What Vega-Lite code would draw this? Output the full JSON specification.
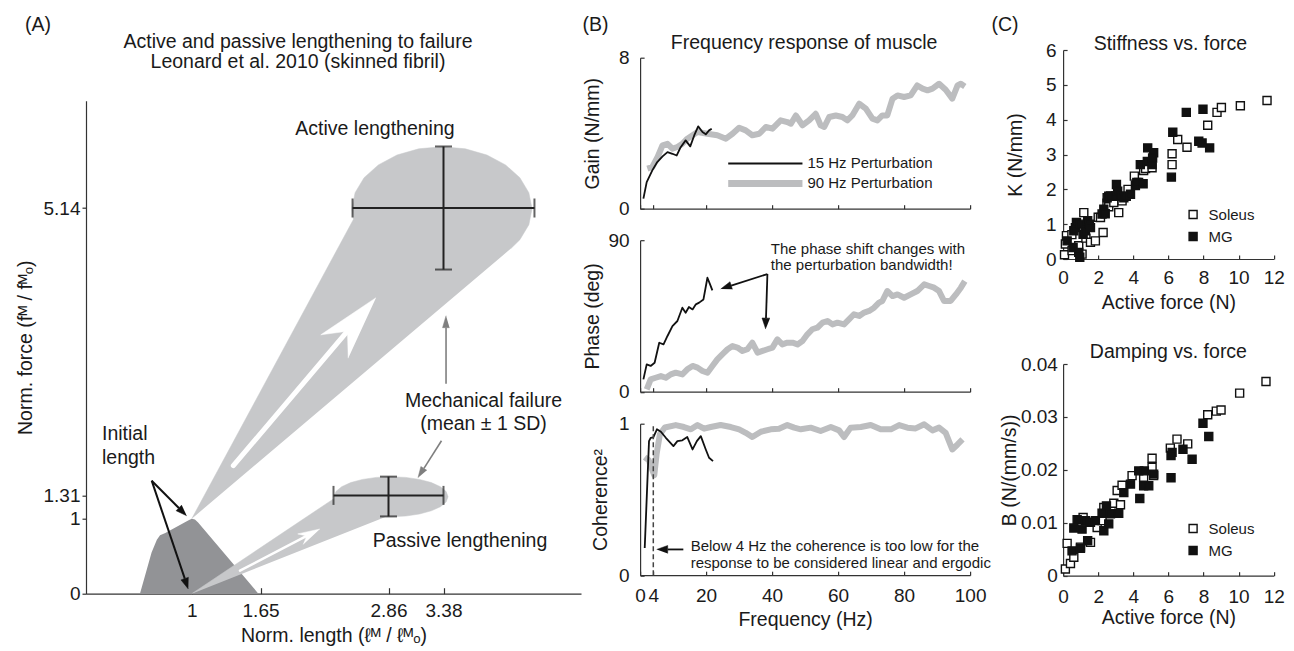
{
"$schema": "https://vega.github.io/schema/vega-lite/v6.json",
"background": "white",
"padding": {"left": 15, "top": 14, "right": 0, "bottom": 0},
"config": {
  "view": {"stroke": null},
  "font": "Liberation Sans",
  "axis": {"grid": false, "domainColor": "#333", "domainWidth": 1.2, "tickColor": "#333", "tickWidth": 1.2, "labelColor": "#1a1a1a", "titleColor": "#1a1a1a", "labelFontSize": 19, "titleFontSize": 19.5, "titleFontWeight": "normal", "labelFont": "Liberation Sans", "titleFont": "Liberation Sans", "labelOverlap": false, "labelFlush": false},
  "title": {"fontSize": 19.5, "fontWeight": "normal", "color": "#1a1a1a", "font": "Liberation Sans"},
  "text": {"font": "Liberation Sans", "color": "#1a1a1a"}
},
"datasets": {
  "A_fl": [{"x":0.51,"y":0},{"x":0.56,"y":0.25},{"x":0.62,"y":0.55},{"x":0.67,"y":0.72},{"x":0.70,"y":0.78},{"x":0.75,"y":0.81},{"x":0.97,"y":0.98},{"x":1.0,"y":1.0},{"x":1.03,"y":0.99},{"x":1.06,"y":0.95},{"x":1.63,"y":0}],
  "A_cones": [
    {"id":"act","o":0,"x":1.0,"y":1.0},{"id":"act","o":1,"x":2.528,"y":4.987},{"id":"act","o":2,"x":2.515,"y":5.131},{"id":"act","o":3,"x":2.544,"y":5.344},{"id":"act","o":4,"x":2.629,"y":5.544},{"id":"act","o":5,"x":2.764,"y":5.714},{"id":"act","o":6,"x":2.94,"y":5.846},{"id":"act","o":7,"x":3.146,"y":5.929},{"id":"act","o":8,"x":3.366,"y":5.957},{"id":"act","o":9,"x":3.586,"y":5.929},{"id":"act","o":10,"x":3.791,"y":5.846},{"id":"act","o":11,"x":3.967,"y":5.714},{"id":"act","o":12,"x":4.102,"y":5.544},{"id":"act","o":13,"x":4.187,"y":5.344},{"id":"act","o":14,"x":4.217,"y":5.131},{"id":"act","o":15,"x":4.187,"y":4.917},{"id":"act","o":16,"x":4.102,"y":4.717},{"id":"act","o":17,"x":4.017,"y":4.599},
    {"id":"pas","o":0,"x":1.0,"y":0.0},{"id":"pas","o":1,"x":2.347,"y":1.27},{"id":"pas","o":2,"x":2.345,"y":1.293},{"id":"pas","o":3,"x":2.363,"y":1.362},{"id":"pas","o":4,"x":2.417,"y":1.426},{"id":"pas","o":5,"x":2.503,"y":1.481},{"id":"pas","o":6,"x":2.614,"y":1.523},{"id":"pas","o":7,"x":2.744,"y":1.55},{"id":"pas","o":8,"x":2.884,"y":1.559},{"id":"pas","o":9,"x":3.024,"y":1.55},{"id":"pas","o":10,"x":3.153,"y":1.523},{"id":"pas","o":11,"x":3.265,"y":1.481},{"id":"pas","o":12,"x":3.351,"y":1.426},{"id":"pas","o":13,"x":3.405,"y":1.362},{"id":"pas","o":14,"x":3.423,"y":1.293},{"id":"pas","o":15,"x":3.405,"y":1.223},{"id":"pas","o":16,"x":3.351,"y":1.159},{"id":"pas","o":17,"x":3.265,"y":1.105},{"id":"pas","o":18,"x":3.153,"y":1.062},{"id":"pas","o":19,"x":3.024,"y":1.035},{"id":"pas","o":20,"x":2.884,"y":1.026},{"id":"pas","o":21,"x":2.836,"y":1.027}
  ],
  "A_shafts": [
    {"k":"wa","x":1.393,"y":1.706,"x2":2.472,"y2":3.498},
    {"k":"wp","x":1.456,"y":0.307,"x2":2.087,"y2":0.77},
    {"k":"bk","x":0.621,"y":1.506,"x2":0.878,"y2":1.143},
    {"k":"bk","x":0.621,"y":1.506,"x2":0.934,"y2":0.201},
    {"k":"gr","x":3.404,"y":2.798,"x2":3.404,"y2":3.545},
    {"k":"gr","x":3.361,"y":2.039,"x2":3.195,"y2":1.67}
  ],
  "A_heads": [
    {"k":"w","id":"wa","o":0,"x":2.742,"y":3.945},{"k":"w","id":"wa","o":1,"x":2.22,"y":3.45},{"k":"w","id":"wa","o":2,"x":2.472,"y":3.498},{"k":"w","id":"wa","o":3,"x":2.479,"y":3.138},
    {"k":"w","id":"wp","o":0,"x":2.212,"y":0.862},{"k":"w","id":"wp","o":1,"x":2.002,"y":0.797},{"k":"w","id":"wp","o":2,"x":2.087,"y":0.77},{"k":"w","id":"wp","o":3,"x":2.054,"y":0.656},
    {"k":"b","id":"b1","o":0,"x":0.952,"y":1.039},{"k":"b","id":"b1","o":1,"x":0.852,"y":1.106},{"k":"b","id":"b1","o":2,"x":0.905,"y":1.181},
    {"k":"b","id":"b2","o":0,"x":0.967,"y":0.063},{"k":"b","id":"b2","o":1,"x":0.898,"y":0.184},{"k":"b","id":"b2","o":2,"x":0.97,"y":0.219},
    {"k":"g","id":"g1","o":0,"x":3.404,"y":3.705},{"k":"g","id":"g1","o":1,"x":3.371,"y":3.545},{"k":"g","id":"g1","o":2,"x":3.437,"y":3.545},
    {"k":"g","id":"g2","o":0,"x":3.139,"y":1.546},{"k":"g","id":"g2","o":1,"x":3.166,"y":1.695},{"k":"g","id":"g2","o":2,"x":3.223,"y":1.644}
  ],
  "A_barsH": [{"x":2.52,"x2":4.24,"y":5.14},{"x":2.34,"x2":3.38,"y":1.31}],
  "A_barsV": [{"x":3.38,"y":4.32,"y2":5.96},{"x":2.86,"y":1.03,"y2":1.56}],
  "A_textC": [{"t":"Active lengthening","x":2.732,"y":6.193},{"t":"Passive lengthening","x":3.536,"y":0.706},{"t":"Mechanical failure","x":3.758,"y":2.572},{"t":"(mean ± 1 SD)","x":3.758,"y":2.265}],
  "A_textL": [{"t":"Initial","x":0.151,"y":2.128},{"t":"length","x":0.151,"y":1.808}],
  "gain15": [{"f":1.0,"v":0.53},{"f":2.0,"v":1.41},{"f":3.7,"v":2.03},{"f":5.2,"v":2.47},{"f":6.8,"v":2.77},{"f":8.3,"v":3.0},{"f":9.8,"v":2.91},{"f":11.1,"v":2.82},{"f":12.3,"v":3.26},{"f":13.8,"v":3.62},{"f":15.2,"v":3.3},{"f":16.4,"v":3.88},{"f":17.6,"v":4.36},{"f":18.9,"v":4.06},{"f":19.9,"v":3.94},{"f":20.9,"v":4.15},{"f":21.7,"v":4.24}],
  "gain90": [{"f":2.2,"v":2.12},{"f":3.7,"v":2.21},{"f":5.3,"v":2.74},{"f":6.8,"v":3.36},{"f":8.3,"v":3.44},{"f":9.8,"v":3.18},{"f":11.3,"v":3.27},{"f":12.8,"v":3.44},{"f":14.3,"v":3.71},{"f":15.9,"v":3.89},{"f":17.4,"v":4.06},{"f":20.4,"v":3.97},{"f":23.4,"v":3.89},{"f":26.0,"v":3.71},{"f":28.0,"v":3.97},{"f":30.0,"v":4.29},{"f":32.0,"v":4.15},{"f":34.0,"v":3.89},{"f":36.1,"v":3.97},{"f":38.1,"v":4.33},{"f":40.1,"v":4.24},{"f":42.6,"v":4.68},{"f":44.6,"v":4.59},{"f":45.7,"v":4.5},{"f":47.2,"v":4.94},{"f":49.2,"v":4.42},{"f":51.2,"v":4.68},{"f":53.2,"v":5.03},{"f":54.7,"v":4.42},{"f":55.8,"v":4.33},{"f":57.3,"v":4.86},{"f":59.3,"v":4.94},{"f":61.3,"v":4.86},{"f":62.8,"v":4.68},{"f":64.3,"v":4.94},{"f":66.4,"v":5.56},{"f":68.4,"v":5.3},{"f":70.4,"v":4.77},{"f":71.9,"v":4.68},{"f":73.4,"v":4.94},{"f":74.9,"v":4.94},{"f":76.5,"v":5.83},{"f":78.0,"v":6.0},{"f":80.0,"v":5.92},{"f":82.0,"v":6.0},{"f":84.0,"v":6.53},{"f":85.6,"v":6.36},{"f":87.1,"v":6.27},{"f":88.6,"v":6.36},{"f":90.6,"v":6.62},{"f":92.6,"v":6.3},{"f":94.6,"v":5.83},{"f":96.2,"v":6.53},{"f":97.2,"v":6.62},{"f":98.4,"v":6.48}],
  "ph15": [{"f":1.0,"v":7.3},{"f":2.0,"v":16.2},{"f":3.2,"v":15.3},{"f":4.4,"v":17.2},{"f":5.8,"v":29.1},{"f":7.1,"v":28.1},{"f":8.3,"v":33.1},{"f":9.8,"v":39.0},{"f":11.3,"v":42.0},{"f":12.8,"v":49.9},{"f":13.8,"v":46.9},{"f":14.8,"v":50.3},{"f":15.9,"v":48.9},{"f":16.9,"v":51.9},{"f":17.9,"v":52.9},{"f":19.2,"v":54.8},{"f":20.4,"v":67.7},{"f":21.2,"v":63.8},{"f":21.9,"v":60.2}],
  "ph90": [{"f":2.0,"v":1.4},{"f":3.2,"v":7.3},{"f":4.7,"v":8.3},{"f":6.3,"v":9.3},{"f":7.8,"v":8.3},{"f":9.3,"v":10.3},{"f":10.8,"v":11.3},{"f":12.8,"v":10.3},{"f":14.3,"v":13.3},{"f":15.9,"v":15.3},{"f":17.4,"v":14.3},{"f":18.9,"v":12.3},{"f":20.4,"v":11.3},{"f":21.9,"v":15.3},{"f":23.4,"v":19.2},{"f":24.9,"v":22.2},{"f":26.5,"v":25.2},{"f":28.0,"v":27.1},{"f":29.5,"v":26.2},{"f":31.0,"v":24.2},{"f":32.5,"v":25.2},{"f":34.0,"v":29.1},{"f":35.6,"v":23.2},{"f":37.1,"v":24.2},{"f":38.6,"v":25.2},{"f":40.1,"v":26.2},{"f":41.6,"v":31.1},{"f":43.1,"v":28.1},{"f":44.6,"v":29.1},{"f":46.2,"v":29.1},{"f":47.7,"v":28.1},{"f":49.2,"v":30.1},{"f":50.7,"v":34.1},{"f":52.2,"v":37.1},{"f":53.7,"v":38.0},{"f":55.3,"v":41.0},{"f":56.8,"v":42.0},{"f":58.3,"v":40.0},{"f":59.8,"v":41.0},{"f":61.8,"v":40.0},{"f":63.3,"v":43.0},{"f":64.8,"v":46.0},{"f":66.4,"v":45.0},{"f":67.9,"v":47.0},{"f":69.4,"v":48.0},{"f":70.9,"v":49.9},{"f":72.4,"v":52.9},{"f":73.4,"v":53.9},{"f":74.9,"v":59.8},{"f":76.5,"v":56.8},{"f":78.0,"v":57.8},{"f":80.0,"v":55.8},{"f":82.0,"v":57.8},{"f":84.0,"v":59.8},{"f":86.1,"v":63.8},{"f":87.6,"v":62.8},{"f":89.1,"v":61.8},{"f":90.6,"v":59.8},{"f":92.1,"v":53.9},{"f":94.1,"v":53.9},{"f":95.7,"v":57.8},{"f":97.2,"v":61.8},{"f":98.4,"v":65.7}],
  "co15": [{"f":1.4,"v":0.18},{"f":2.7,"v":0.885},{"f":3.2,"v":0.907},{"f":4.0,"v":0.91},{"f":5.1,"v":0.963},{"f":6.3,"v":0.947},{"f":7.8,"v":0.907},{"f":10.1,"v":0.852},{"f":11.3,"v":0.885},{"f":12.8,"v":0.89},{"f":14.3,"v":0.912},{"f":15.9,"v":0.83},{"f":17.2,"v":0.885},{"f":18.4,"v":0.918},{"f":19.9,"v":0.83},{"f":20.9,"v":0.775},{"f":22.1,"v":0.753}],
  "co90": [{"f":1.4,"v":0.78},{"f":2.6,"v":0.76},{"f":3.6,"v":0.7},{"f":4.3,"v":0.66},{"f":5.0,"v":0.8},{"f":6.0,"v":0.93},{"f":7.5,"v":0.975},{"f":10.8,"v":0.991},{"f":13.3,"v":0.978},{"f":15.4,"v":0.963},{"f":17.4,"v":0.991},{"f":19.4,"v":0.967},{"f":21.4,"v":0.978},{"f":24.4,"v":0.991},{"f":27.5,"v":0.978},{"f":30.0,"v":0.963},{"f":32.0,"v":0.94},{"f":34.0,"v":0.912},{"f":36.6,"v":0.947},{"f":39.6,"v":0.963},{"f":42.1,"v":0.967},{"f":44.6,"v":0.991},{"f":46.7,"v":0.974},{"f":48.7,"v":0.963},{"f":51.7,"v":0.974},{"f":54.7,"v":0.952},{"f":57.8,"v":0.978},{"f":60.3,"v":0.956},{"f":61.8,"v":0.912},{"f":63.8,"v":0.974},{"f":66.9,"v":0.978},{"f":69.9,"v":0.991},{"f":72.9,"v":0.963},{"f":76.0,"v":0.963},{"f":78.5,"v":0.991},{"f":81.0,"v":0.974},{"f":83.5,"v":0.969},{"f":86.1,"v":0.996},{"f":88.6,"v":0.956},{"f":90.6,"v":0.974},{"f":92.6,"v":0.94},{"f":94.6,"v":0.83},{"f":96.2,"v":0.863},{"f":97.7,"v":0.896}],
  "stiff": [
    {"m":"Soleus","x":0.08,"y":0.12},{"m":"Soleus","x":0.13,"y":0.43},{"m":"Soleus","x":0.19,"y":0.67},{"m":"Soleus","x":0.51,"y":0.24},{"m":"Soleus","x":0.5,"y":0.7},{"m":"Soleus","x":0.89,"y":0.38},{"m":"Soleus","x":1.08,"y":0.14},{"m":"Soleus","x":1.18,"y":1.33},{"m":"Soleus","x":1.3,"y":0.6},{"m":"Soleus","x":1.56,"y":0.48},{"m":"Soleus","x":1.84,"y":0.52},{"m":"Soleus","x":2.0,"y":1.2},{"m":"Soleus","x":2.13,"y":1.19},{"m":"Soleus","x":2.28,"y":0.76},{"m":"Soleus","x":2.5,"y":1.6},{"m":"Soleus","x":2.6,"y":1.5},{"m":"Soleus","x":2.89,"y":1.62},{"m":"Soleus","x":3.0,"y":1.8},{"m":"Soleus","x":3.17,"y":1.33},{"m":"Soleus","x":3.36,"y":1.67},{"m":"Soleus","x":3.7,"y":2.0},{"m":"Soleus","x":4.06,"y":2.38},{"m":"Soleus","x":4.3,"y":2.2},{"m":"Soleus","x":4.59,"y":2.54},{"m":"Soleus","x":4.7,"y":2.6},{"m":"Soleus","x":5.07,"y":2.62},{"m":"Soleus","x":6.21,"y":2.71},{"m":"Soleus","x":6.21,"y":3.02},{"m":"Soleus","x":6.53,"y":3.43},{"m":"Soleus","x":7.06,"y":3.21},{"m":"Soleus","x":8.24,"y":3.84},{"m":"Soleus","x":8.77,"y":4.21},{"m":"Soleus","x":9.02,"y":4.35},{"m":"Soleus","x":10.1,"y":4.4},{"m":"Soleus","x":11.62,"y":4.55},
    {"m":"MG","x":0.23,"y":0.52},{"m":"MG","x":0.57,"y":0.33},{"m":"MG","x":0.61,"y":0.81},{"m":"MG","x":0.7,"y":0.9},{"m":"MG","x":0.76,"y":1.05},{"m":"MG","x":0.89,"y":0.19},{"m":"MG","x":0.95,"y":0.05},{"m":"MG","x":1.0,"y":1.0},{"m":"MG","x":1.14,"y":0.71},{"m":"MG","x":1.27,"y":0.81},{"m":"MG","x":1.4,"y":1.1},{"m":"MG","x":1.5,"y":1.0},{"m":"MG","x":1.56,"y":0.9},{"m":"MG","x":2.22,"y":1.29},{"m":"MG","x":2.32,"y":1.43},{"m":"MG","x":2.4,"y":1.3},{"m":"MG","x":2.51,"y":1.76},{"m":"MG","x":2.6,"y":1.8},{"m":"MG","x":2.7,"y":1.81},{"m":"MG","x":3.0,"y":1.8},{"m":"MG","x":3.04,"y":2.14},{"m":"MG","x":3.11,"y":1.95},{"m":"MG","x":3.3,"y":1.8},{"m":"MG","x":3.46,"y":1.76},{"m":"MG","x":3.6,"y":1.8},{"m":"MG","x":3.84,"y":1.86},{"m":"MG","x":4.12,"y":2.11},{"m":"MG","x":4.2,"y":2.2},{"m":"MG","x":4.4,"y":2.71},{"m":"MG","x":4.56,"y":2.16},{"m":"MG","x":4.82,"y":3.19},{"m":"MG","x":4.8,"y":2.8},{"m":"MG","x":5.07,"y":2.71},{"m":"MG","x":5.16,"y":3.05},{"m":"MG","x":5.1,"y":2.9},{"m":"MG","x":6.17,"y":2.35},{"m":"MG","x":6.25,"y":3.64},{"m":"MG","x":7.02,"y":4.21},{"m":"MG","x":7.73,"y":3.38},{"m":"MG","x":7.92,"y":3.33},{"m":"MG","x":7.97,"y":4.3},{"m":"MG","x":8.35,"y":3.19}
  ],
  "damp": [
    {"m":"Soleus","x":0.13,"y":0.00126},{"m":"Soleus","x":0.23,"y":0.0061},{"m":"Soleus","x":0.42,"y":0.0023},{"m":"Soleus","x":0.61,"y":0.0035},{"m":"Soleus","x":0.99,"y":0.0054},{"m":"Soleus","x":1.14,"y":0.011},{"m":"Soleus","x":1.56,"y":0.0063},{"m":"Soleus","x":1.94,"y":0.0091},{"m":"Soleus","x":2.22,"y":0.0104},{"m":"Soleus","x":2.32,"y":0.0129},{"m":"Soleus","x":2.89,"y":0.0137},{"m":"Soleus","x":3.08,"y":0.0161},{"m":"Soleus","x":3.27,"y":0.0134},{"m":"Soleus","x":3.36,"y":0.0171},{"m":"Soleus","x":3.93,"y":0.0189},{"m":"Soleus","x":4.59,"y":0.0186},{"m":"Soleus","x":5.07,"y":0.0222},{"m":"Soleus","x":5.07,"y":0.0205},{"m":"Soleus","x":5.16,"y":0.0189},{"m":"Soleus","x":6.11,"y":0.0241},{"m":"Soleus","x":6.49,"y":0.0258},{"m":"Soleus","x":7.1,"y":0.0249},{"m":"Soleus","x":8.24,"y":0.0304},{"m":"Soleus","x":8.73,"y":0.0311},{"m":"Soleus","x":9.0,"y":0.0313},{"m":"Soleus","x":10.06,"y":0.0345},{"m":"Soleus","x":11.56,"y":0.0367},
    {"m":"MG","x":0.51,"y":0.0047},{"m":"MG","x":0.61,"y":0.009},{"m":"MG","x":0.8,"y":0.0106},{"m":"MG","x":0.99,"y":0.0052},{"m":"MG","x":1.08,"y":0.0088},{"m":"MG","x":1.27,"y":0.0104},{"m":"MG","x":1.4,"y":0.0066},{"m":"MG","x":1.56,"y":0.0101},{"m":"MG","x":1.84,"y":0.0104},{"m":"MG","x":2.22,"y":0.0118},{"m":"MG","x":2.32,"y":0.0085},{"m":"MG","x":2.47,"y":0.0132},{"m":"MG","x":2.6,"y":0.0098},{"m":"MG","x":2.7,"y":0.0117},{"m":"MG","x":3.17,"y":0.0118},{"m":"MG","x":3.46,"y":0.0157},{"m":"MG","x":3.84,"y":0.0173},{"m":"MG","x":4.37,"y":0.0146},{"m":"MG","x":4.31,"y":0.0198},{"m":"MG","x":4.63,"y":0.0198},{"m":"MG","x":4.59,"y":0.017},{"m":"MG","x":4.88,"y":0.017},{"m":"MG","x":5.16,"y":0.0192},{"m":"MG","x":6.15,"y":0.0185},{"m":"MG","x":6.21,"y":0.0233},{"m":"MG","x":6.15,"y":0.0227},{"m":"MG","x":6.83,"y":0.0239},{"m":"MG","x":7.35,"y":0.022},{"m":"MG","x":7.97,"y":0.0288},{"m":"MG","x":8.3,"y":0.0263}
  ]
},
"hconcat": [
  {"vconcat": [
    {"width": 1, "height": 1, "data": {"values": [{"t": ""}]}, "mark": {"type": "text", "fontSize": 0}, "encoding": {"text": {"field": "t"}},
     "title": {"text": "(A)", "anchor": "start", "frame": "group", "dx": -61, "offset": 14}},
    {"width": 495, "height": 493,
     "title": {"text": ["Active and passive lengthening to failure", "Leonard et al. 2010 (skinned fibril)"], "anchor": "middle", "frame": "group", "dx": -35.5, "offset": 28, "lineHeight": 20},
     "encoding": {
       "x": {"field": "x", "type": "quantitative", "scale": {"domain": [0, 4.68], "nice": false, "zero": false},
             "axis": {"values": [1, 1.65, 2.86, 3.38], "format": ".3~g", "title": "Norm. length (ℓᴹ / ℓᴹₒ)", "tickSize": -6, "labelPadding": 13.3, "titleY": 42, "titleBaseline": "middle"}},
       "y": {"field": "y", "type": "quantitative", "scale": {"domain": [0, 6.57], "nice": false, "zero": false},
             "axis": {"values": [0, 1, 1.31, 5.14], "format": ".3~g", "title": "Norm. force (fᴹ / fᴹₒ)", "tickSize": 4, "labelPadding": 2, "titleX": -61, "titleBaseline": "middle"}}
     },
     "layer": [
       {"data": {"name": "A_fl"}, "mark": {"type": "area", "color": "#929396"}, "encoding": {}},
       {"data": {"name": "A_cones"}, "mark": {"type": "line", "fill": "#c7c8ca", "stroke": "#c7c8ca", "strokeWidth": 0.5}, "encoding": {"detail": {"field": "id"}, "order": {"field": "o"}}},
       {"data": {"name": "A_shafts"}, "transform": [{"filter": "datum.k == 'wa'"}], "mark": {"type": "rule", "color": "white", "strokeWidth": 5, "strokeCap": "round"}, "encoding": {"x2": {"field": "x2"}, "y2": {"field": "y2"}}},
       {"data": {"name": "A_shafts"}, "transform": [{"filter": "datum.k == 'wp'"}], "mark": {"type": "rule", "color": "white", "strokeWidth": 2.5, "strokeCap": "round"}, "encoding": {"x2": {"field": "x2"}, "y2": {"field": "y2"}}},
       {"data": {"name": "A_heads"}, "transform": [{"filter": "datum.k == 'w'"}], "mark": {"type": "line", "fill": "white", "stroke": "white", "strokeWidth": 0.5}, "encoding": {"detail": {"field": "id"}, "order": {"field": "o"}}},
       {"data": {"name": "A_barsH"}, "mark": {"type": "errorbar", "color": "#222", "thickness": 2, "ticks": {"size": 19, "thickness": 2, "color": "#222"}}, "encoding": {"x2": {"field": "x2"}}},
       {"data": {"name": "A_barsV"}, "mark": {"type": "errorbar", "color": "#222", "thickness": 2, "ticks": {"size": 17, "thickness": 2, "color": "#222"}}, "encoding": {"y2": {"field": "y2"}}},
       {"data": {"name": "A_shafts"}, "transform": [{"filter": "datum.k == 'bk'"}], "mark": {"type": "rule", "color": "#111", "strokeWidth": 2}, "encoding": {"x2": {"field": "x2"}, "y2": {"field": "y2"}}},
       {"data": {"name": "A_shafts"}, "transform": [{"filter": "datum.k == 'gr'"}], "mark": {"type": "rule", "color": "#7f7f7f", "strokeWidth": 1.6}, "encoding": {"x2": {"field": "x2"}, "y2": {"field": "y2"}}},
       {"data": {"name": "A_heads"}, "transform": [{"filter": "datum.k == 'b'"}], "mark": {"type": "line", "fill": "#111", "stroke": "#111", "strokeWidth": 0.5}, "encoding": {"detail": {"field": "id"}, "order": {"field": "o"}}},
       {"data": {"name": "A_heads"}, "transform": [{"filter": "datum.k == 'g'"}], "mark": {"type": "line", "fill": "#7f7f7f", "stroke": "#7f7f7f", "strokeWidth": 0.5}, "encoding": {"detail": {"field": "id"}, "order": {"field": "o"}}},
       {"data": {"name": "A_textC"}, "mark": {"type": "text", "align": "center", "baseline": "middle", "fontSize": 19.5}, "encoding": {"text": {"field": "t"}}},
       {"data": {"name": "A_textL"}, "mark": {"type": "text", "align": "left", "baseline": "middle", "fontSize": 19.5}, "encoding": {"text": {"field": "t"}}}
     ]}
  ], "spacing": 50.7, "bounds": "flush"},
  {"hconcat": [
    {"vconcat": [
      {"width": 1, "height": 1, "data": {"values": [{"t": ""}]}, "mark": {"type": "text", "fontSize": 0}, "encoding": {"text": {"field": "t"}},
       "title": {"text": "(B)", "anchor": "start", "frame": "group", "dx": -57.7, "offset": 14}},
      {"vconcat": [
        {"width": 330, "height": 151,
         "title": {"text": "Frequency response of muscle", "anchor": "middle", "frame": "group", "dx": -1, "offset": -5},
         "encoding": {
           "x": {"field": "f", "type": "quantitative", "scale": {"domain": [0, 100], "nice": false}, "axis": {"values": [0, 4, 20, 40, 60, 80, 100], "labels": false, "title": null, "tickSize": -4}},
           "y": {"field": "v", "type": "quantitative", "scale": {"domain": [0, 8], "nice": false}, "axis": {"values": [0, 8], "title": "Gain (N/mm)", "titleX": -47.7, "titleBaseline": "middle", "tickSize": -4, "labelPadding": 15}}
         },
         "layer": [
           {"data": {"name": "gain90"}, "mark": {"type": "line", "color": "#bcbdbf", "strokeWidth": 6, "strokeJoin": "round"}, "encoding": {}},
           {"data": {"name": "gain15"}, "mark": {"type": "line", "color": "#111", "strokeWidth": 1.8, "strokeJoin": "round"}, "encoding": {}},
           {"data": {"values": [{"f": 26.7, "v": 1.34}, {"f": 49.2, "v": 1.34}]}, "mark": {"type": "line", "color": "#bcbdbf", "strokeWidth": 7}, "encoding": {}},
           {"data": {"values": [{"f": 26.7, "v": 2.4}, {"f": 49.2, "v": 2.4}]}, "mark": {"type": "line", "color": "#111", "strokeWidth": 2}, "encoding": {}},
           {"data": {"values": [{"t": "15 Hz Perturbation", "f": 50.7, "v": 2.4}, {"t": "90 Hz Perturbation", "f": 50.7, "v": 1.34}]}, "mark": {"type": "text", "align": "left", "baseline": "middle", "fontSize": 15}, "encoding": {"text": {"field": "t"}}}
         ]},
        {"width": 330, "height": 151.5,
         "encoding": {
           "x": {"field": "f", "type": "quantitative", "scale": {"domain": [0, 100], "nice": false}, "axis": {"values": [0, 4, 20, 40, 60, 80, 100], "labels": false, "title": null, "tickSize": -4}},
           "y": {"field": "v", "type": "quantitative", "scale": {"domain": [0, 90], "nice": false}, "axis": {"values": [0, 90], "title": "Phase (deg)", "titleX": -47.7, "titleBaseline": "middle", "tickSize": -4, "labelPadding": 15}}
         },
         "layer": [
           {"data": {"name": "ph90"}, "mark": {"type": "line", "color": "#bcbdbf", "strokeWidth": 6, "strokeJoin": "round"}, "encoding": {}},
           {"data": {"name": "ph15"}, "mark": {"type": "line", "color": "#111", "strokeWidth": 1.8, "strokeJoin": "round"}, "encoding": {}},
           {"data": {"values": [{"f": 38.58, "v": 69.9, "f2": 27.61, "v2": 63.0}, {"f": 38.58, "v": 69.9, "f2": 38.15, "v2": 43.8}]}, "mark": {"type": "rule", "color": "#111", "strokeWidth": 1.8}, "encoding": {"x2": {"field": "f2"}, "y2": {"field": "v2"}}},
           {"data": {"values": [{"id": "p1", "o": 0, "f": 24.42, "v": 61.0}, {"id": "p1", "o": 1, "f": 27.24, "v": 65.3}, {"id": "p1", "o": 2, "f": 27.97, "v": 60.8}, {"id": "p2", "o": 0, "f": 38.06, "v": 37.2}, {"id": "p2", "o": 1, "f": 36.94, "v": 43.8}, {"id": "p2", "o": 2, "f": 39.36, "v": 43.7}]}, "mark": {"type": "line", "fill": "#111", "stroke": "#111", "strokeWidth": 0.5}, "encoding": {"detail": {"field": "id"}, "order": {"field": "o"}}},
           {"data": {"values": [{"t": "The phase shift changes with", "f": 39.6, "v": 84.8}, {"t": "the perturbation bandwidth!", "f": 39.6, "v": 75.3}]}, "mark": {"type": "text", "align": "left", "baseline": "middle", "fontSize": 15}, "encoding": {"text": {"field": "t"}}}
         ]},
        {"width": 330, "height": 151.5,
         "encoding": {
           "x": {"field": "f", "type": "quantitative", "scale": {"domain": [0, 100], "nice": false}, "axis": {"values": [0, 4, 20, 40, 60, 80, 100], "title": "Frequency (Hz)", "titleY": 44.3, "titleBaseline": "middle", "tickSize": -4, "labelPadding": 15.3}},
           "y": {"field": "v", "type": "quantitative", "scale": {"domain": [0, 1], "nice": false}, "axis": {"values": [0, 1], "format": ".1~f", "title": "Coherence²", "titleX": -39.7, "titleBaseline": "middle", "tickSize": -4, "labelPadding": 15}}
         },
         "layer": [
           {"data": {"name": "co90"}, "mark": {"type": "line", "color": "#bcbdbf", "strokeWidth": 6, "strokeJoin": "round"}, "encoding": {}},
           {"data": {"name": "co15"}, "mark": {"type": "line", "color": "#111", "strokeWidth": 1.8, "strokeJoin": "round"}, "encoding": {}},
           {"data": {"values": [{"f": 4, "v": 0, "v2": 1}]}, "mark": {"type": "rule", "color": "#444", "strokeWidth": 1.5, "strokeDash": [5, 3]}, "encoding": {"y2": {"field": "v2"}}},
           {"data": {"values": [{"f": 13.1, "v": 0.17, "f2": 8.36, "v2": 0.17}]}, "mark": {"type": "rule", "color": "#111", "strokeWidth": 1.8}, "encoding": {"x2": {"field": "f2"}, "y2": {"field": "v2"}}},
           {"data": {"values": [{"o": 0, "f": 5.03, "v": 0.17}, {"o": 1, "f": 8.36, "v": 0.196}, {"o": 2, "f": 8.36, "v": 0.144}]}, "mark": {"type": "line", "fill": "#111", "stroke": "#111", "strokeWidth": 0.5}, "encoding": {"order": {"field": "o"}}},
           {"data": {"values": [{"t": "Below 4 Hz the coherence is too low for the", "f": 15.33, "v": 0.191}, {"t": "response to be considered linear and ergodic", "f": 15.33, "v": 0.081}]}, "mark": {"type": "text", "align": "left", "baseline": "middle", "fontSize": 15}, "encoding": {"text": {"field": "t"}}}
         ]}
      ], "spacing": 31.5, "bounds": "flush"}
    ], "spacing": 7.7, "bounds": "flush"},
    {"vconcat": [
      {"width": 1, "height": 1, "data": {"values": [{"t": ""}]}, "mark": {"type": "text", "fontSize": 0}, "encoding": {"text": {"field": "t"}},
       "title": {"text": "(C)", "anchor": "start", "frame": "group", "dx": -71.7, "offset": 14}},
      {"vconcat": [
        {"width": 210.6, "height": 209, "data": {"name": "stiff"},
         "title": {"text": "Stiffness vs. force", "anchor": "middle", "frame": "group", "dx": 2, "offset": -13},
         "mark": {"type": "point", "shape": "square", "filled": true, "size": 64, "stroke": "#111", "strokeWidth": 1.4, "opacity": 1},
         "encoding": {
           "x": {"field": "x", "type": "quantitative", "scale": {"domain": [0, 12], "nice": false}, "axis": {"values": [0, 2, 4, 6, 8, 10, 12], "title": "Active force (N)", "titleY": 43.4, "titleBaseline": "middle", "tickSize": -4, "labelPadding": 13.3}},
           "y": {"field": "y", "type": "quantitative", "scale": {"domain": [0, 6], "nice": false}, "axis": {"values": [0, 1, 2, 3, 4, 5, 6], "title": "K (N/mm)", "titleX": -47.7, "titleBaseline": "middle", "tickSize": -4, "labelPadding": 11}},
           "fill": {"field": "m", "type": "nominal", "scale": {"domain": ["Soleus", "MG"], "range": ["white", "#111"]},
                    "legend": {"orient": "none", "legendX": 122.5, "legendY": 157, "title": null, "symbolType": "square", "symbolSize": 64, "symbolStrokeColor": "#111", "symbolStrokeWidth": 1.4, "labelFontSize": 15, "labelOffset": 8, "rowPadding": 6, "padding": 0, "labelColor": "#1a1a1a"}}
         }},
        {"width": 210.6, "height": 211.7, "data": {"name": "damp"},
         "title": {"text": "Damping vs. force", "anchor": "middle", "frame": "group", "dx": 0, "offset": -7.6},
         "mark": {"type": "point", "shape": "square", "filled": true, "size": 64, "stroke": "#111", "strokeWidth": 1.4, "opacity": 1},
         "encoding": {
           "x": {"field": "x", "type": "quantitative", "scale": {"domain": [0, 12], "nice": false}, "axis": {"values": [0, 2, 4, 6, 8, 10, 12], "title": "Active force (N)", "titleY": 41.7, "titleBaseline": "middle", "tickSize": -4, "labelPadding": 15.9}},
           "y": {"field": "y", "type": "quantitative", "scale": {"domain": [0, 0.04], "nice": false}, "axis": {"values": [0, 0.01, 0.02, 0.03, 0.04], "format": ".2~f", "title": "B (N/(mm/s))", "titleX": -54, "titleBaseline": "middle", "tickSize": -4, "labelPadding": 9.7}},
           "fill": {"field": "m", "type": "nominal", "scale": {"domain": ["Soleus", "MG"], "range": ["white", "#111"]},
                    "legend": {"orient": "none", "legendX": 122.5, "legendY": 157, "title": null, "symbolType": "square", "symbolSize": 64, "symbolStrokeColor": "#111", "symbolStrokeWidth": 1.4, "labelFontSize": 15, "labelOffset": 8, "rowPadding": 6, "padding": 0, "labelColor": "#1a1a1a"}}
         }}
      ], "spacing": 105, "bounds": "flush", "resolve": {"scale": {"fill": "independent"}, "legend": {"fill": "independent"}}}
    ], "spacing": 0, "bounds": "flush"}
  ], "spacing": 0, "bounds": "full"}
],
"spacing": 1.1,
"bounds": "full"
}
